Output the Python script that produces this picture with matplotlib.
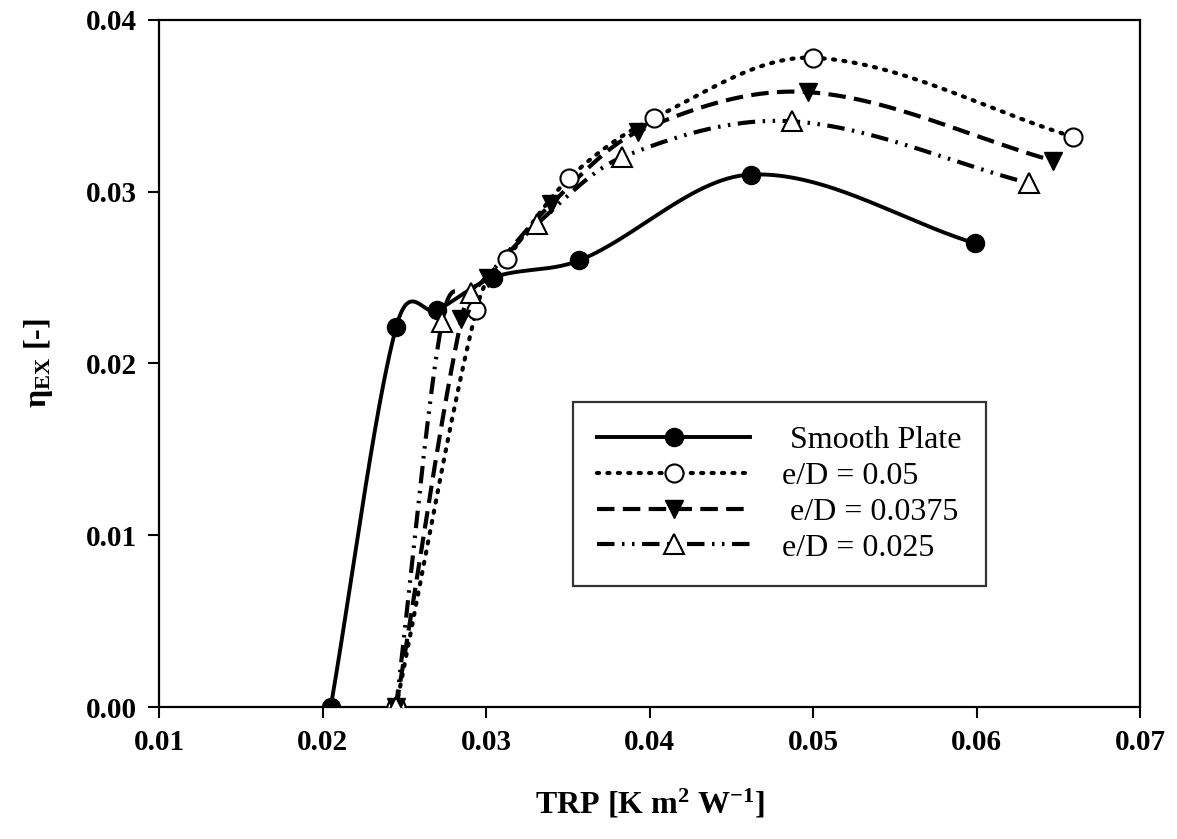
import numpy as np
import matplotlib
matplotlib.use("Agg")
import matplotlib.pyplot as plt

plt.rcParams['font.family'] = ['Liberation Serif', 'DejaVu Serif']
plt.rcParams['mathtext.fontset'] = 'custom'
plt.rcParams['mathtext.rm'] = 'Liberation Serif'
plt.rcParams['mathtext.bf'] = 'Liberation Serif:bold'
plt.rcParams['mathtext.it'] = 'Liberation Serif:italic'

# ---- data ----
smooth_x = [0.0205, 0.0245, 0.0270, 0.0304, 0.0357, 0.0462, 0.0599]
smooth_y = [0.0000, 0.0221, 0.0231, 0.0250, 0.0260, 0.0310, 0.0270]

ed050_x = [0.0245, 0.0294, 0.0313, 0.0351, 0.0403, 0.0500, 0.0659]
ed050_y = [0.0000, 0.0231, 0.0261, 0.0308, 0.0343, 0.0378, 0.0332]

ed0375_x = [0.0245, 0.0285, 0.0301, 0.0340, 0.0393, 0.0497, 0.0647]
ed0375_y = [0.0000, 0.0226, 0.0250, 0.0293, 0.0335, 0.0358, 0.0318]

ed025_x = [0.0245, 0.0273, 0.0291, 0.0331, 0.0383, 0.0487, 0.0632]
ed025_y = [0.0000, 0.0224, 0.0241, 0.0281, 0.0320, 0.0341, 0.0305]

labels = [" Smooth Plate", "e/D = 0.05", " e/D = 0.0375", "e/D = 0.025"]
x_ticks = [0.01, 0.02, 0.03, 0.04, 0.05, 0.06, 0.07]
y_ticks = [0.00, 0.01, 0.02, 0.03, 0.04]


def hermite_curve(x, y, n=60):
    """Cubic Hermite curve through the points, tangents from neighbouring points."""
    x = np.asarray(x, float); y = np.asarray(y, float)
    k = len(x)
    m = np.empty(k)
    m[0] = (y[1] - y[0]) / (x[1] - x[0])
    m[-1] = (y[-1] - y[-2]) / (x[-1] - x[-2])
    for i in range(1, k - 1):
        m[i] = (y[i + 1] - y[i - 1]) / (x[i + 1] - x[i - 1])
    xs_all, ys_all = [], []
    for i in range(k - 1):
        h = x[i + 1] - x[i]
        t = np.linspace(0, 1, n)
        h00 = 2 * t**3 - 3 * t**2 + 1
        h10 = t**3 - 2 * t**2 + t
        h01 = -2 * t**3 + 3 * t**2
        h11 = t**3 - t**2
        xs_all.append(x[i] + t * h)
        ys_all.append(h00 * y[i] + h10 * h * m[i] + h01 * y[i + 1] + h11 * h * m[i + 1])
    return np.concatenate(xs_all), np.concatenate(ys_all)


fig = plt.figure(figsize=(11.77, 8.39), dpi=100)
ax = fig.add_axes([0.1351, 0.1573, 0.8335, 0.8189])

series = [
    (smooth_x, smooth_y, dict(ls='-', marker='o', mfc='black', mec='black', ms=13), 2.8),
    (ed050_x, ed050_y, dict(ls=(0, (0.5, 2.0)), dash_capstyle='round', marker='o', mfc='white', mec='black', ms=13, mew=1.5), 3.0),
    (ed0375_x, ed0375_y, dict(ls=(0, (4.2, 2.0)), marker='v', mfc='black', mec='black', ms=13), 3.0),
    (ed025_x, ed025_y, dict(ls=(0, (4.2, 1.8, 0.6, 1.8, 0.6, 1.8)), marker='^', mfc='white', mec='black', ms=14, mew=1.5), 3.0),
]

handles = []
for (xs, ys, st, lw), lab in zip(series, labels):
    sx, sy = hermite_curve(xs, ys)
    ls = st['ls']
    ax.plot(sx, sy, color='black', lw=lw, linestyle=ls, zorder=2,
            dash_capstyle=st.get('dash_capstyle', 'butt'))
    ax.plot(xs, ys, linestyle='none', marker=st['marker'], mfc=st['mfc'],
            mec=st['mec'], ms=st['ms'], mew=st.get('mew', 1.0), zorder=3)
    h, = ax.plot([], [], color='black', lw=lw, linestyle=ls, marker=st['marker'],
                 mfc=st['mfc'], mec=st['mec'], ms=st['ms'], mew=st.get('mew', 1.0),
                 dash_capstyle=st.get('dash_capstyle', 'butt'))
    handles.append(h)

ax.set_xlim(0.01, 0.07)
ax.set_ylim(0.0, 0.04)
ax.set_xticks(x_ticks)
ax.set_yticks(y_ticks)
ax.set_xticklabels([f"{v:.2f}" for v in x_ticks])
ax.set_yticklabels([f"{v:.2f}" for v in y_ticks])
ax.tick_params(direction='out', length=8, width=1.5, labelsize=21, pad=8)
for lbl in ax.get_xticklabels() + ax.get_yticklabels():
    lbl.set_fontweight('bold')
for sp in ax.spines.values():
    sp.set_linewidth(1.6)

ax.set_xlabel(r"TRP [K m$^{\mathbf{2}}$ W$^{\mathbf{-1}}$]", fontsize=23, fontweight='bold', labelpad=22)
ax.set_ylabel(r"η$_{\mathbf{EX}}$ [-]", fontsize=23, fontweight='bold', labelpad=22)

leg = ax.legend(handles, labels, loc='upper left', bbox_to_anchor=(0.422, 0.444),
                frameon=True, fancybox=False, edgecolor='black', fontsize=23,
                handlelength=4.8, handletextpad=1.0, borderpad=0.75, labelspacing=0.2,
                borderaxespad=0, markerscale=1.0)
leg.get_frame().set_linewidth(1.6)

fig.savefig("out.png", dpi=100)
